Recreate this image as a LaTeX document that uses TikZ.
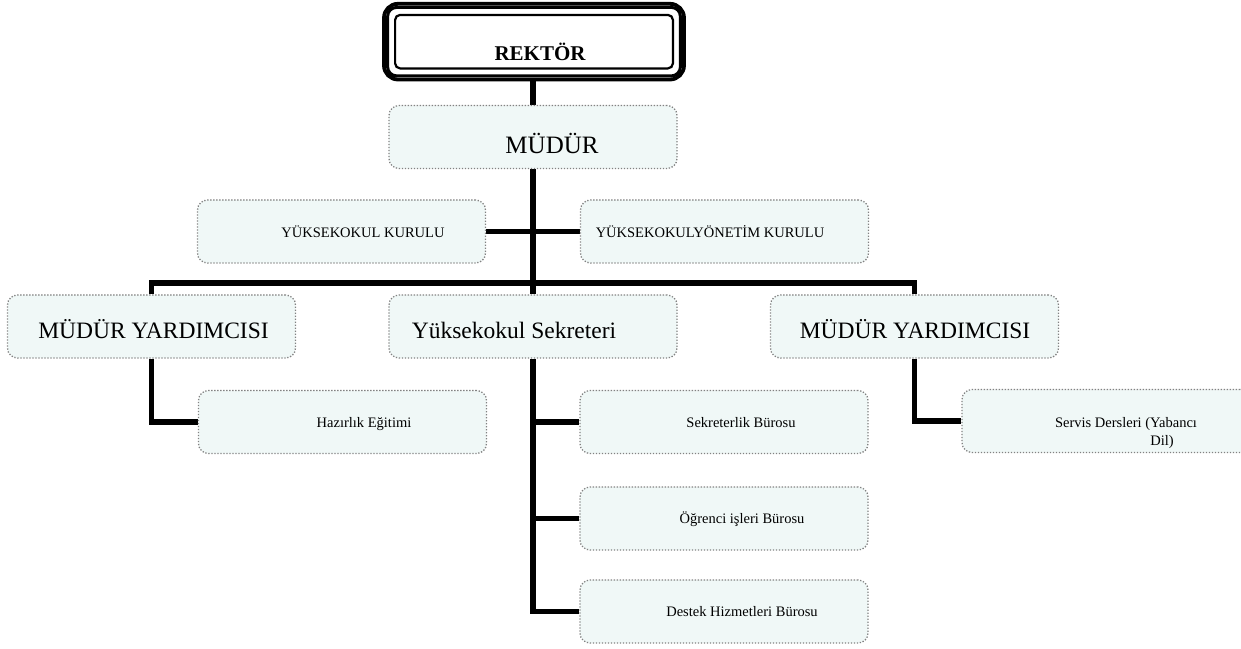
\documentclass[tikz,border=0pt]{standalone}
\usepackage{fontspec}
\setmainfont{Liberation Serif}
\usetikzlibrary{backgrounds}
\definecolor{boxfill}{RGB}{240,248,247}
\definecolor{dotgray}{RGB}{130,130,130}
\tikzset{
  orgbox/.style={draw=dotgray, line width=1.3pt, dash pattern=on 1.3pt off 1.7pt,
    fill=boxfill, rounded corners=10pt, minimum width=288pt, minimum height=63pt,
    inner sep=0pt},
  conn/.style={line width=5.5pt, line join=miter, black},
  bigtxt/.style={font=\fontsize{23.5}{27}\selectfont, anchor=base, inner sep=0pt},
  smalltxt/.style={font=\fontsize{14.5}{17}\selectfont, anchor=base, inner sep=0pt},
}
\begin{document}
\begin{tikzpicture}[x=1pt,y=1pt]
\useasboundingbox (0,0) rectangle (1241,-648);
% REKTOR frame
\node[draw, line width=3.8pt, rounded corners=14pt, minimum width=300pt, minimum height=75.7pt, inner sep=0pt] (rektor) at (534,-41.65) {};
\draw[line width=3pt, rounded corners=9pt] ([shift={(5.5,-5.5)}]rektor.north west) rectangle ([shift={(-5.5,5.5)}]rektor.south east);
\draw[line width=2.2pt, rounded corners=5pt] ([shift={(13,-13)}]rektor.north west) rectangle ([shift={(-13,13)}]rektor.south east);
\node[anchor=base, inner sep=0pt, font=\fontsize{21}{24}\selectfont\bfseries] (rektorT) at (540,-60) {REKTÖR};
% boxes
\node[orgbox] (mudur) at (533,-137) {};
\node[anchor=base, inner sep=0pt, font=\fontsize{25}{28}\selectfont] (mudurT) at (552,-153.3) {MÜDÜR};
\node[orgbox] (yk) at (341.5,-231.5) {};
\node[smalltxt] (ykT) at (363,-237) {YÜKSEKOKUL KURULU};
\node[orgbox] (yyk) at (724.5,-231.5) {};
\node[smalltxt] (yykT) at (710,-237) {YÜKSEKOKULYÖNETİM KURULU};
\node[orgbox] (myl) at (151.5,-326.5) {};
\node[bigtxt] (mylT) at (153.5,-338) {MÜDÜR YARDIMCISI};
\node[orgbox] (ys) at (533,-326.5) {};
\node[bigtxt] (ysT) at (514,-338) {Yüksekokul Sekreteri};
\node[orgbox] (myr) at (914.5,-326.5) {};
\node[bigtxt] (myrT) at (915,-338) {MÜDÜR YARDIMCISI};
\node[orgbox] (haz) at (342.5,-422) {};
\node[smalltxt] (hazT) at (364,-427) {Hazırlık Eğitimi};
\node[orgbox] (sek) at (724,-422) {};
\node[smalltxt] (sekT) at (741,-427) {Sekreterlik Bürosu};
\node[orgbox] (servis) at (1106,-421) {};
\node[smalltxt] (servisT) at (1126,-427) {Servis Dersleri (Yabancı};
\node[smalltxt] (servisT2) at (1162,-445) {Dil)};
\node[orgbox] (ogr) at (724,-518.5) {};
\node[smalltxt] (ogrT) at (742,-523) {Öğrenci işleri Bürosu};
\node[orgbox] (destek) at (724,-611.5) {};
\node[smalltxt] (destekT) at (742,-616) {Destek Hizmetleri Bürosu};
\coordinate (hub) at (533,-283);
\begin{pgfonlayer}{background}
\draw[conn] (rektor.south -| mudur.north) -- (mudur.north);
\draw[conn] (mudur.south) -- (ys.north);
\draw[conn] (yk.east) -- (yyk.west);
\draw[conn] (myl.north) |- (hub) -| (myr.north);
\draw[conn] (myl.south) |- (haz.west);
\draw[conn] (myr.south) |- (servis.west);
\draw[conn] (ys.south) |- (destek.west);
\draw[conn] (ys.south |- sek.west) -- (sek.west);
\draw[conn] (ys.south |- ogr.west) -- (ogr.west);
\end{pgfonlayer}
\end{tikzpicture}
\end{document}
